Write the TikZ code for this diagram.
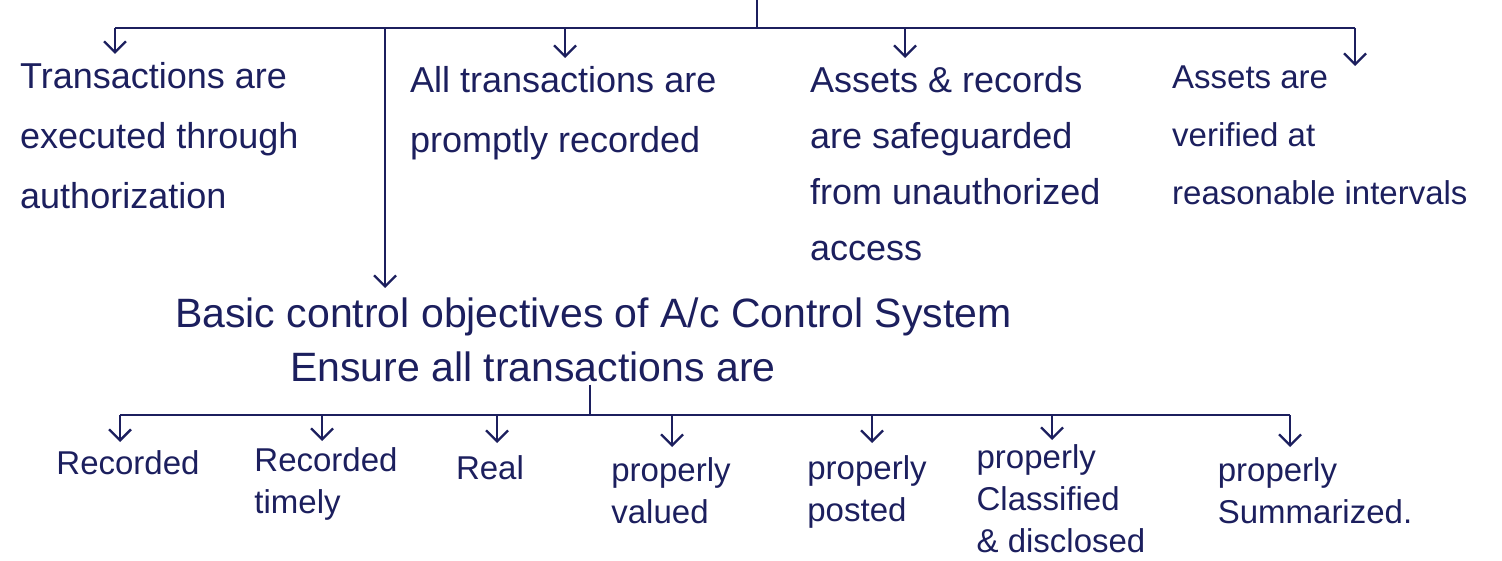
\documentclass[tikz,border=0pt]{standalone}
\usepackage{fontspec}
\setmainfont{Liberation Sans}
\usetikzlibrary{arrows.meta}
\definecolor{ink}{HTML}{1C1F5E}
\tikzset{
  bus/.style={draw=ink, line width=2.3pt},
  arr/.style={draw=ink, line width=2.3pt, -{Straight Barb[length=11pt,width=22pt,line width=2.3pt]}},
  toptext/.style={text=ink, inner sep=0pt, align=left, anchor=north west, font=\fontsize{36}{60}\selectfont},
  midtext/.style={text=ink, inner sep=0pt, align=left, anchor=north west, font=\fontsize{41}{54}\selectfont},
  bottext/.style={text=ink, inner sep=0pt, align=left, anchor=north, font=\fontsize{33}{42}\selectfont}
}
\begin{document}
\begin{tikzpicture}[x=1pt,y=-1pt]
\useasboundingbox (0,0) rectangle (1502,561);
% top texts
\node[toptext] (t1) at (20,62) {Transactions are\\executed through\\authorization};
\node[toptext] (t2) at (410,66) {All transactions are\\promptly recorded};
\node[toptext, font=\fontsize{36}{56}\selectfont] (t3) at (810,66) {Assets \& records\\are safeguarded\\from unauthorized\\access};
\node[toptext, font=\fontsize{33}{58}\selectfont] (t4) at (1172,66) {Assets are\\verified at\\reasonable intervals};
% middle text
\node[midtext] (basic) at (175,298) {Basic control objectives of A/c Control System};
\node[midtext] (ensure) at (290,352) {Ensure all transactions are};
% bottom labels
\node[bottext] (b1) at (128,450) {Recorded};
\node[bottext] (b2) at (326,447) {Recorded\\timely};
\node[bottext] (b3) at (490,455) {Real};
\node[bottext] (b4) at (671,457) {properly\\valued};
\node[bottext] (b5) at (867,455) {properly\\posted};
\node[bottext] (b6) at (1061,444) {properly\\Classified\\\& disclosed};
\node[bottext] (b7) at (1315,457) {properly\\Summarized.};
% top bus
\coordinate (ttop) at (757,0);
\coordinate (tj) at (757,28);
\coordinate (tl) at (115,28);
\coordinate (tr) at (1355,28);
\coordinate (tv) at (385,28);
\coordinate (c2) at (565,28);
\coordinate (c3) at (905,28);
\draw[bus] (ttop) -- (tj);
\draw[bus] (tl) -- (tr);
\draw[arr] (tl) -- ([yshift=8pt]t1.north -| tl);
\draw[arr] (c2) -- ([yshift=8pt]t2.north -| c2);
\draw[arr] (c3) -- ([yshift=8pt]t3.north -| c3);
\draw[arr] (tr) -- ([yshift=0pt]t4.north -| tr);
\draw[arr] (tv) -- ([yshift=10pt]basic.north -| tv);
% bottom bus
\coordinate (bj) at (590,415);
\coordinate (bl) at (120,415);
\coordinate (br) at (1290,415);
\draw[bus] ([yshift=-2pt]ensure.south -| bj) -- (bj);
\draw[bus] (bl) -- (br);
\draw[arr] (bl) -- ([yshift=8pt]b1.north -| bl);
\draw[arr] (322,415) -- ([yshift=6pt]b2.north -| 322,415);
\draw[arr] (497,415) -- ([yshift=12pt]b3.north -| 497,415);
\draw[arr] (672,415) -- ([yshift=10pt]b4.north -| 672,415);
\draw[arr] (872,415) -- ([yshift=12pt]b5.north -| 872,415);
\draw[arr] (1052,415) -- ([yshift=4pt]b6.north -| 1052,415);
\draw[arr] (br) -- ([yshift=10pt]b7.north -| br);
\end{tikzpicture}
\end{document}
